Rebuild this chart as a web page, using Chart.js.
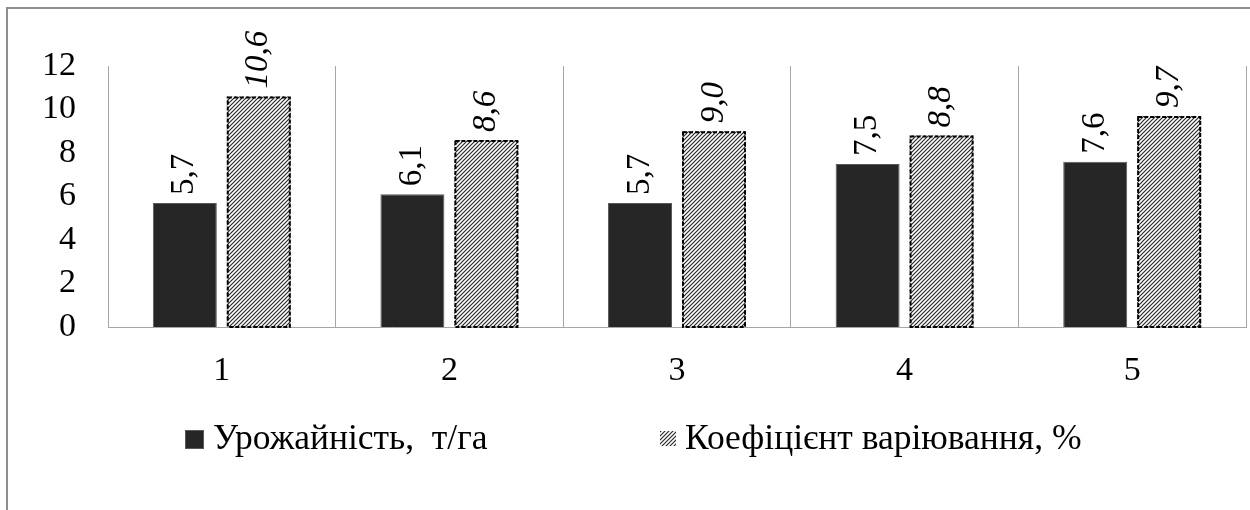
<!DOCTYPE html>
<html>
<head>
<meta charset="utf-8">
<script src="https://cdn.jsdelivr.net/npm/chart.js@4.4.1/dist/chart.umd.min.js"></script>
<style>
  html, body { margin: 0; padding: 0; background: #fff; overflow: hidden; }
  #wrap { position: relative; width: 1250px; height: 510px; }
  #frame { position: absolute; left: 6px; top: 7px; width: 1400px; height: 700px;
           border-left: 2px solid #8e8e8e; border-top: 2px solid #8e8e8e; }
  canvas { position: absolute; left: 0; top: 0; }
</style>
</head>
<body>
<div id="wrap">
  <div id="frame"></div>
  <canvas id="c" width="1250" height="510"></canvas>
</div>
<script>
const categories = ['1', '2', '3', '4', '5'];
const yieldValues = [5.7, 6.1, 5.7, 7.5, 7.6];
const cvValues = [10.6, 8.6, 9.0, 8.8, 9.7];
const seriesNames = ['Урожайність,  т/га', 'Коефіцієнт варіювання, %'];
const yTickMin = 0;
const yTickMax = 12;
const yTickStep = 2;

const FONT = "'Liberation Serif', Tinos, 'Times New Roman', 'DejaVu Serif', serif";
const FS = 34;
const LEGEND_FS = 35.5;

function makeHatch() {
  const s = 4;
  const c = document.createElement('canvas');
  c.width = s; c.height = s;
  const g = c.getContext('2d');
  g.fillStyle = '#ffffff';
  g.fillRect(0, 0, s, s);
  g.strokeStyle = '#2a2a2a';
  g.lineWidth = 1.2;
  g.beginPath();
  g.moveTo(-1, s + 1); g.lineTo(s + 1, -1);
  g.moveTo(-1, 1); g.lineTo(1, -1);
  g.moveTo(s - 1, s + 1); g.lineTo(s + 1, s - 1);
  g.stroke();
  return g.createPattern(c, 'repeat');
}
const hatch = makeHatch();

function fmt(v) { return v.toFixed(1).replace('.', ','); }

const labelsPlugin = {
  id: 'barLabels',
  afterDatasetsDraw(chart) {
    const ctx = chart.ctx;
    chart.data.datasets.forEach((ds, di) => {
      const meta = chart.getDatasetMeta(di);
      meta.data.forEach((bar, i) => {
        const p = bar.getProps(['x', 'y', 'base', 'width'], true);
        if (di === 1) {
          ctx.save();
          ctx.strokeStyle = '#000';
          ctx.lineWidth = 2;
          ctx.setLineDash([4, 2]);
          const l = p.x - p.width / 2;
          ctx.strokeRect(l + 1, p.y + 1, p.width - 2, p.base - p.y - 1);
          ctx.restore();
        }
        ctx.save();
        ctx.translate(p.x, p.y - 8);
        ctx.rotate(-Math.PI / 2);
        ctx.font = (di === 1 ? 'italic ' : 'normal ') + '33px ' + FONT;
        ctx.fillStyle = '#000';
        ctx.textAlign = 'left';
        ctx.textBaseline = 'middle';
        ctx.fillText(fmt(ds.data[i]), 0, 0);
        ctx.restore();
      });
    });
  }
};

const legendPlugin = {
  id: 'customLegend',
  afterDraw(chart) {
    const ctx = chart.ctx;
    const cy = 440;
    ctx.save();
    ctx.font = LEGEND_FS + 'px ' + FONT;
    ctx.textBaseline = 'middle';
    ctx.textAlign = 'left';
    ctx.fillStyle = '#262626';
    ctx.fillRect(185, cy - 10, 19, 19);
    ctx.strokeStyle = '#595959';
    ctx.lineWidth = 1;
    ctx.strokeRect(185.5, cy - 9.5, 18, 18);
    ctx.fillStyle = '#000';
    ctx.fillText(seriesNames[0], 213, cy);
    ctx.fillStyle = hatch;
    ctx.fillRect(660, cy - 9, 16, 15);
    ctx.fillStyle = '#000';
    ctx.fillText(seriesNames[1], 685, cy);
    ctx.restore();
  }
};

new Chart(document.getElementById('c'), {
  type: 'bar',
  data: {
    labels: categories,
    datasets: [
      {
        label: seriesNames[0],
        data: yieldValues,
        backgroundColor: '#262626',
        borderColor: '#595959',
        borderWidth: 1,
        categoryPercentage: 0.65,
        barPercentage: 0.865
      },
      {
        label: seriesNames[1],
        data: cvValues,
        backgroundColor: hatch,
        borderWidth: 0,
        categoryPercentage: 0.65,
        barPercentage: 0.865
      }
    ]
  },
  options: {
    responsive: false,
    animation: false,
    devicePixelRatio: 1,
    layout: { padding: { top: 66, right: 4, left: 0, bottom: 0 } },
    plugins: {
      legend: { display: false },
      tooltip: { enabled: false }
    },
    scales: {
      x: {
        grid: { offset: true, color: '#a6a6a6', lineWidth: 1, drawTicks: false },
        border: { color: '#a6a6a6', width: 1 },
        ticks: { color: '#000', font: { family: FONT, size: FS }, padding: 24, autoSkip: false, maxRotation: 0 },
        afterFit(scale) { scale.height = 183; }
      },
      y: {
        min: yTickMin,
        max: yTickMax,
        ticks: { stepSize: yTickStep, autoSkip: false, color: '#000', font: { family: FONT, size: FS }, padding: 32 },
        grid: { display: false, drawTicks: false },
        border: { display: true, color: '#a6a6a6', width: 1 },
        afterFit(scale) { scale.width = 108; }
      }
    }
  },
  plugins: [labelsPlugin, legendPlugin]
});
</script>
</body>
</html>
